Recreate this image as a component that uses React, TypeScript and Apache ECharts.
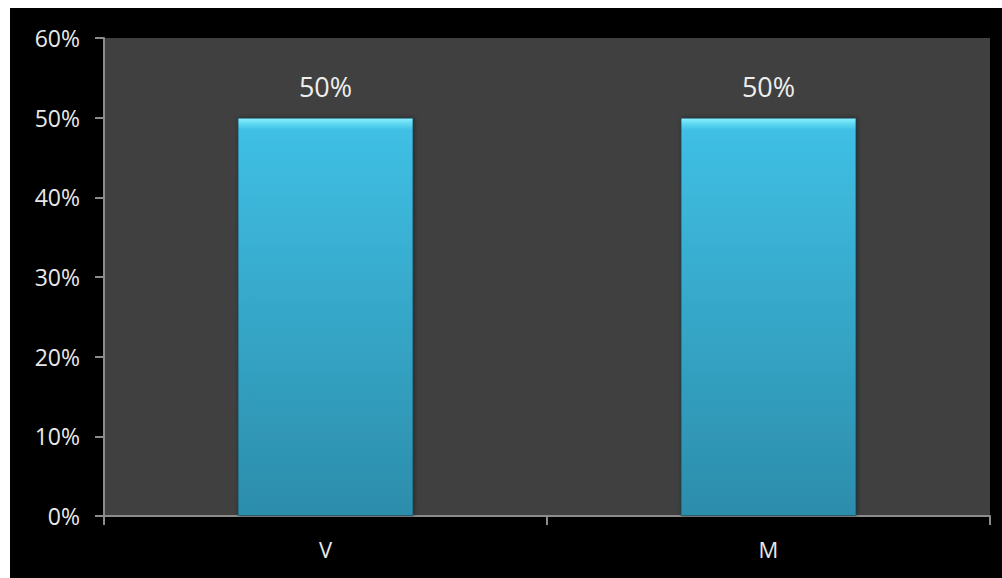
import React, { useEffect, useRef } from "react";
import * as echarts from "echarts";

const categories = ["V", "M"];
const values = [0.5, 0.5];
const yTicks = [0, 0.1, 0.2, 0.3, 0.4, 0.5, 0.6];

export default function App() {
  const ref = useRef<HTMLDivElement>(null);
  useEffect(() => {
    document.body.style.margin = "8px 0 0 10px";
    document.body.style.overflow = "hidden";
    const chart = echarts.init(ref.current!, null, { renderer: "svg" });
    const font = "'Open Sans', 'Noto Sans', sans-serif";
    chart.setOption({
      animation: false,
      backgroundColor: "#000000",
      grid: {
        left: 94,
        right: 12,
        top: 30,
        bottom: 62,
        show: true,
        backgroundColor: "#404040",
        borderWidth: 0,
      },
      xAxis: {
        type: "category",
        data: categories,
        axisLine: { show: true, lineStyle: { color: "#8c8c8c", width: 2 } },
        axisTick: { show: true, length: 9, lineStyle: { color: "#8c8c8c", width: 2 } },
        axisLabel: { color: "#e8e8e8", fontSize: 22, fontFamily: font, margin: 22 },
        splitLine: { show: false },
      },
      yAxis: {
        type: "value",
        min: yTicks[0],
        max: yTicks[yTicks.length - 1],
        interval: 0.1,
        axisLine: { show: true, lineStyle: { color: "#8c8c8c", width: 2 } },
        axisTick: { show: true, length: 9, lineStyle: { color: "#8c8c8c", width: 2 } },
        axisLabel: {
          color: "#e8e8e8",
          fontSize: 23,
          fontFamily: font,
          margin: 24,
          formatter: (v: number) => Math.round(v * 100) + "%",
        },
        splitLine: { show: false },
      },
      series: [
        {
          type: "bar",
          data: values,
          barWidth: "39.7%",
          itemStyle: {
            color: new echarts.graphic.LinearGradient(0, 0, 0, 1, [
              { offset: 0, color: "#8ef0ff" },
              { offset: 0.014, color: "#5fd8f2" },
              { offset: 0.03, color: "#3fbfe4" },
              { offset: 1, color: "#2c8dab" },
            ]),
            borderColor: "rgba(20,70,90,0.6)",
            borderWidth: 1,
            shadowColor: "rgba(0,0,0,0.45)",
            shadowBlur: 4,
            shadowOffsetX: 1,
          },
          label: {
            show: true,
            position: "top",
            distance: 18,
            color: "#eeeeee",
            fontSize: 27,
            fontFamily: font,
            formatter: (p: any) => Math.round(p.value * 100) + "%",
          },
        },
      ],
    });
    return () => chart.dispose();
  }, []);
  return <div ref={ref} style={{ width: 992, height: 570 }} />;
}
